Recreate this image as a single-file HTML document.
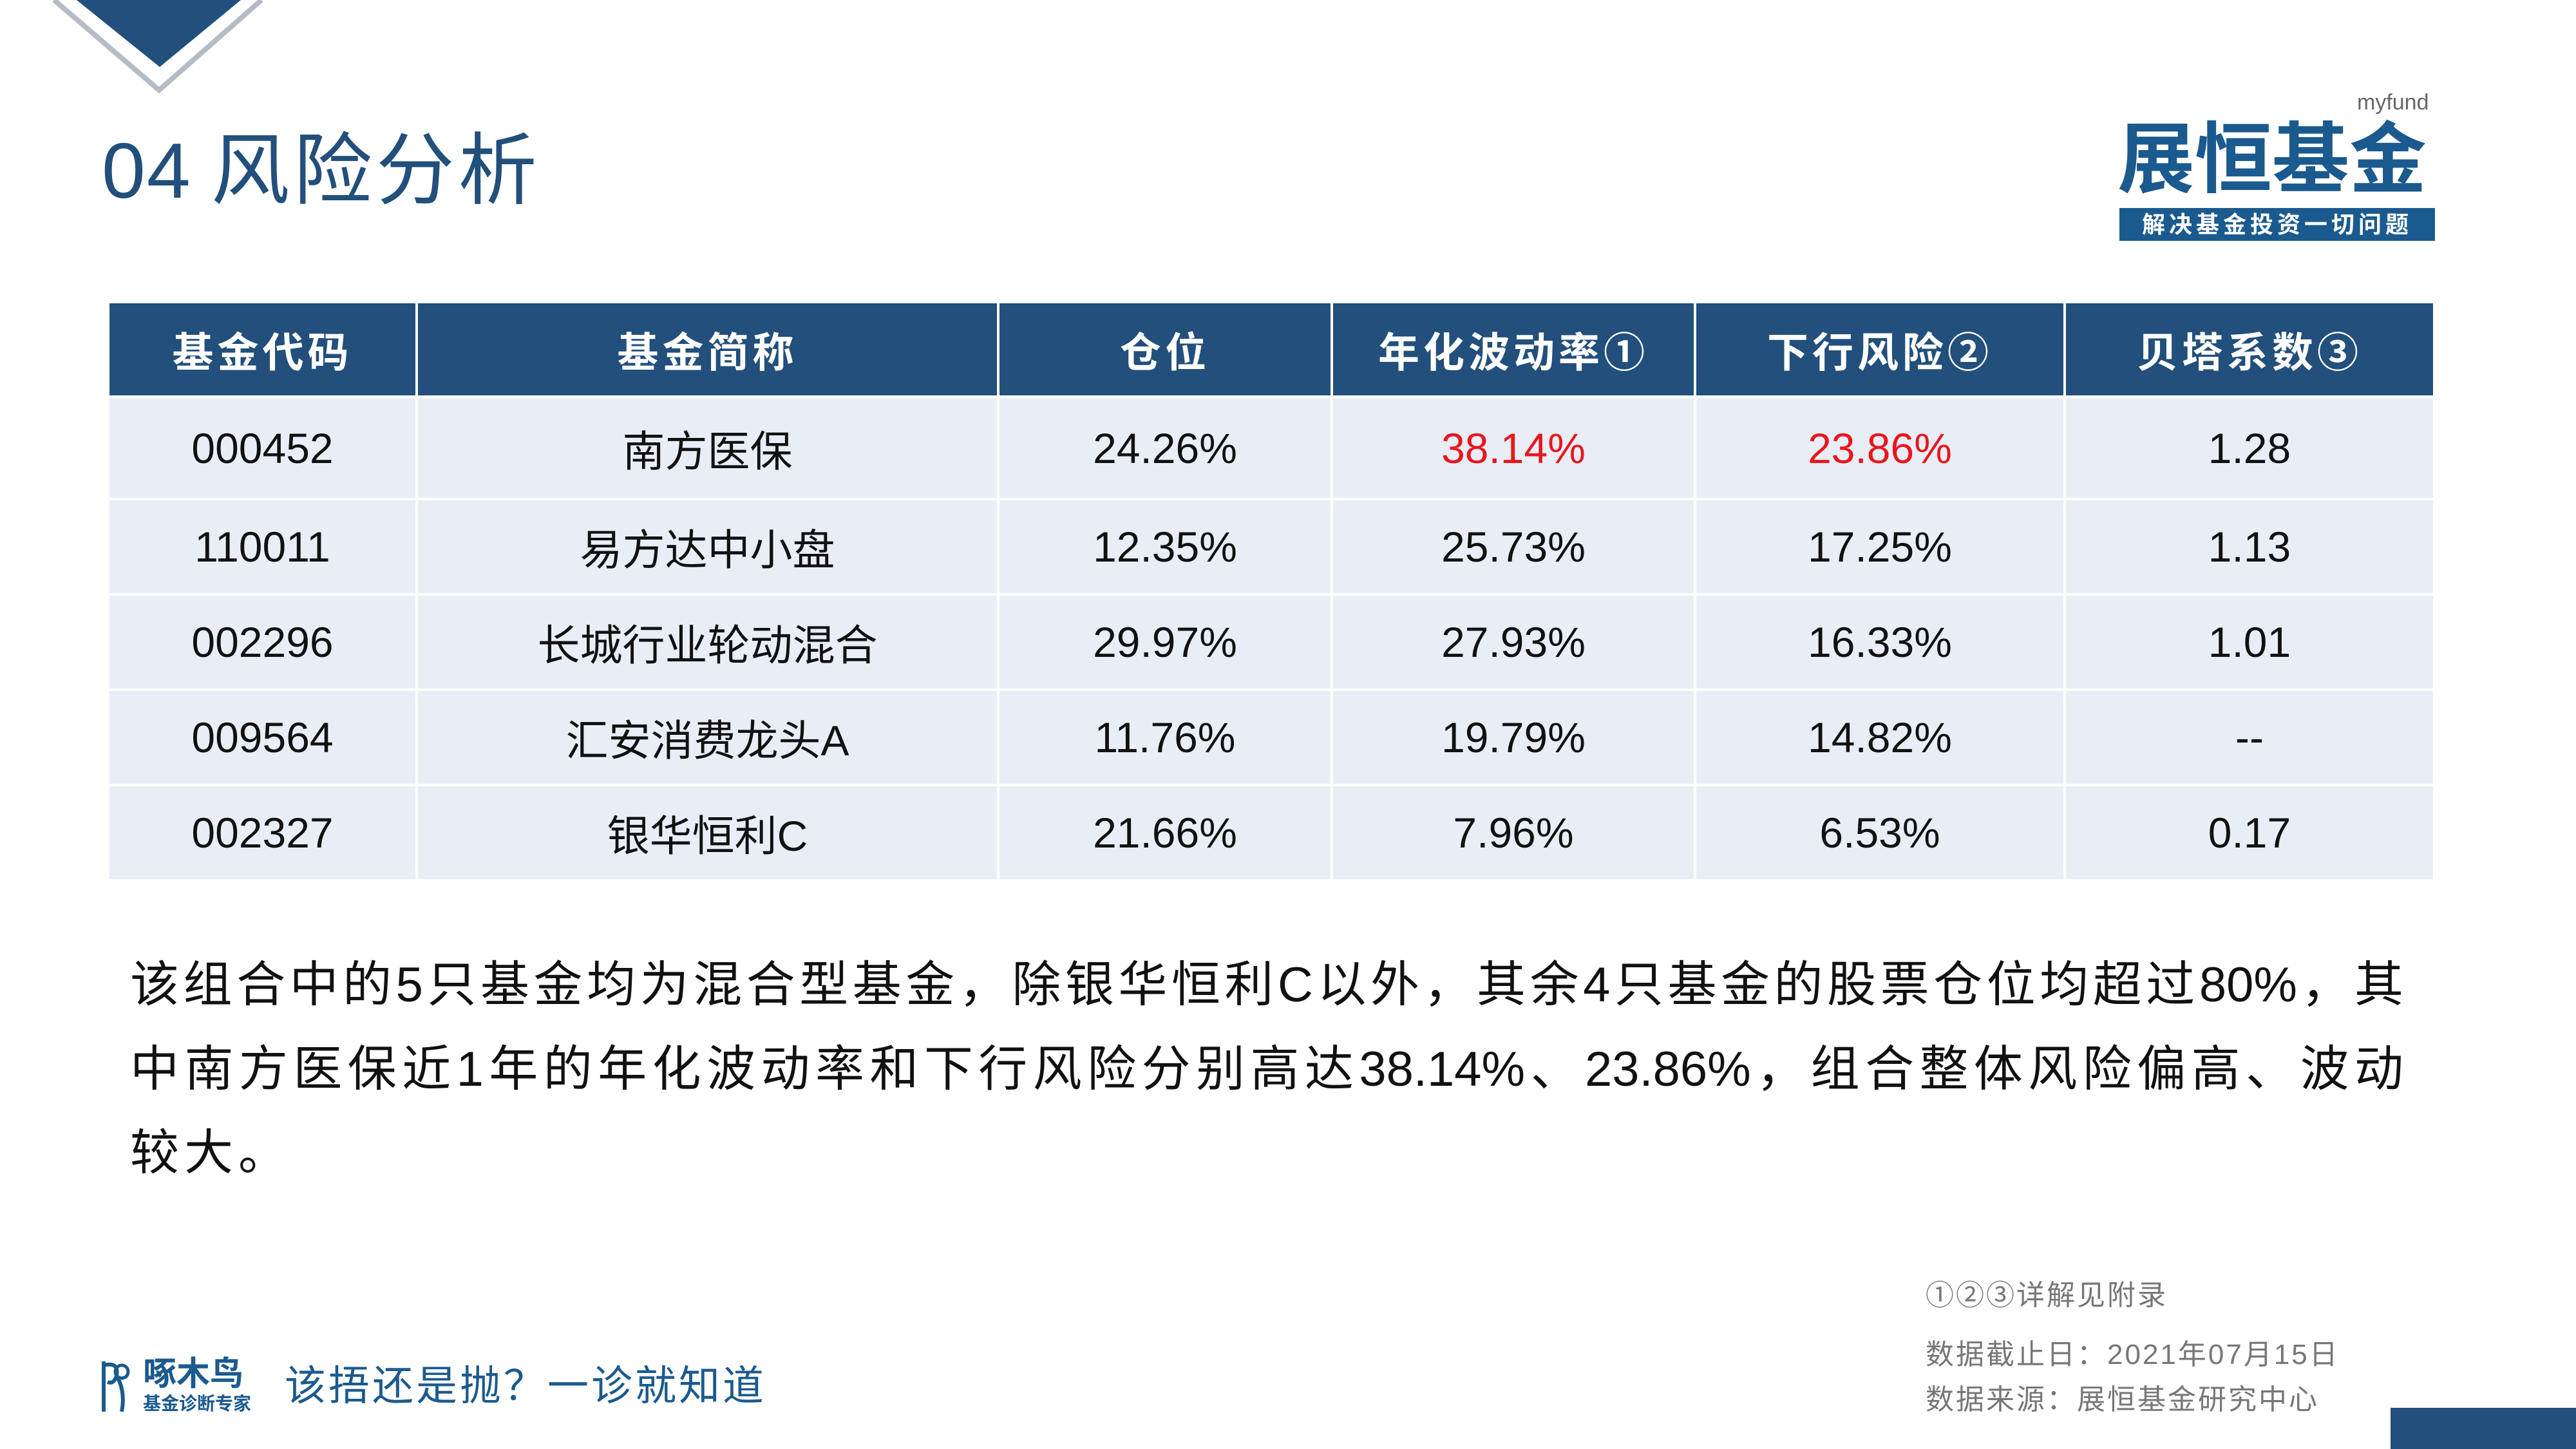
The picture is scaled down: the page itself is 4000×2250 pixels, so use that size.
<!DOCTYPE html>
<html><head><meta charset="utf-8"><style>
html,body{margin:0;padding:0;background:#fff;}
body{width:4000px;height:2250px;position:relative;overflow:hidden;font-family:"Liberation Sans","Noto Sans CJK SC",sans-serif;}
.abs{position:absolute;white-space:nowrap;}
table{position:absolute;left:166px;top:467px;border-collapse:collapse;table-layout:fixed;}
td,th{padding:0;text-align:center;border:4px solid #fff;}
th{background:#224f7b;color:#fff;font-size:64px;font-weight:bold;height:143px;letter-spacing:6px;}
td{background:#e9edf6;color:#111;font-size:66px;}
tr.r1 td{height:155px;}
tr.r td{height:144px;}
.red{color:#e8161c;}
.pl{position:absolute;left:202px;width:3530px;font-size:76px;line-height:100px;color:#111;text-align:justify;text-align-last:justify;white-space:nowrap;}
.foot{color:#777;font-size:44px;letter-spacing:3px;}
</style></head><body>
<svg class="abs" style="left:0;top:0" width="450" height="160">
<polygon points="119,0 374,0 248,104" fill="#224f7b"/>
<polyline points="84,0 247,140 406,0" fill="none" stroke="#b5bcc6" stroke-width="8"/>
</svg>
<div class="abs" style="left:158px;top:190px;font-size:122px;line-height:150px;color:#224f7b;"><span style="letter-spacing:2px;">04</span><span style="margin-left:30px;letter-spacing:6px;">风险分析</span></div>

<div class="abs" style="left:3660px;top:140px;font-size:34px;color:#666;">myfund</div>
<div class="abs" style="left:3288px;top:178px;font-size:120px;line-height:140px;color:#1b5a8e;font-weight:bold;">展恒基金</div>
<div class="abs" style="left:3291px;top:323px;width:490px;height:51px;background:#1b5a8e;color:#fff;font-size:36px;line-height:51px;text-align:center;font-weight:bold;letter-spacing:6px;">解决基金投资一切问题</div>

<table>
<colgroup><col style="width:479px"><col style="width:903px"><col style="width:518px"><col style="width:564px"><col style="width:574px"><col style="width:574px"></colgroup>
<tr><th>基金代码</th><th>基金简称</th><th>仓位</th><th>年化波动率①</th><th>下行风险②</th><th>贝塔系数③</th></tr>
<tr class="r1"><td>000452</td><td>南方医保</td><td>24.26%</td><td class="red">38.14%</td><td class="red">23.86%</td><td>1.28</td></tr>
<tr class="r"><td>110011</td><td>易方达中小盘</td><td>12.35%</td><td>25.73%</td><td>17.25%</td><td>1.13</td></tr>
<tr class="r"><td>002296</td><td>长城行业轮动混合</td><td>29.97%</td><td>27.93%</td><td>16.33%</td><td>1.01</td></tr>
<tr class="r"><td>009564</td><td>汇安消费龙头A</td><td>11.76%</td><td>19.79%</td><td>14.82%</td><td>--</td></tr>
<tr class="r"><td>002327</td><td>银华恒利C</td><td>21.66%</td><td>7.96%</td><td>6.53%</td><td>0.17</td></tr>
</table>

<div class="pl" style="top:1480px;">该组合中的5只基金均为混合型基金，除银华恒利C以外，其余4只基金的股票仓位均超过80%，其</div>
<div class="pl" style="top:1611px;">中南方医保近1年的年化波动率和下行风险分别高达38.14%、23.86%，组合整体风险偏高、波动</div>
<div class="pl" style="top:1741px;text-align-last:left;letter-spacing:8px;">较大。</div>

<div class="abs foot" style="left:2990px;top:1975px;">①②③详解见附录</div>
<div class="abs foot" style="left:2990px;top:2067px;">数据截止日：2021年07月15日</div>
<div class="abs foot" style="left:2990px;top:2137px;">数据来源：展恒基金研究中心</div>

<div class="abs" style="left:3712px;top:2186px;width:288px;height:64px;background:#224f7b;"></div>

<svg class="abs" style="left:155px;top:2110px" width="50" height="85"><path d="M6 4 V82 M6 10 Q30 4 26 26 Q22 40 12 36 M26 26 Q40 50 34 82" fill="none" stroke="#1b5a8e" stroke-width="6"/><circle cx="34" cy="20" r="10" fill="none" stroke="#1b5a8e" stroke-width="5"/></svg>
<div class="abs" style="left:222px;top:2104px;font-size:52px;line-height:60px;color:#1b5a8e;font-weight:bold;">啄木鸟</div>
<div class="abs" style="left:222px;top:2164px;font-size:28px;line-height:32px;color:#1b5a8e;font-weight:bold;">基金诊断专家</div>
<div class="abs" style="left:442px;top:2112px;font-size:64px;line-height:80px;color:#1b5a8e;letter-spacing:4px;">该捂还是抛？一诊就知道</div>
</body></html>
